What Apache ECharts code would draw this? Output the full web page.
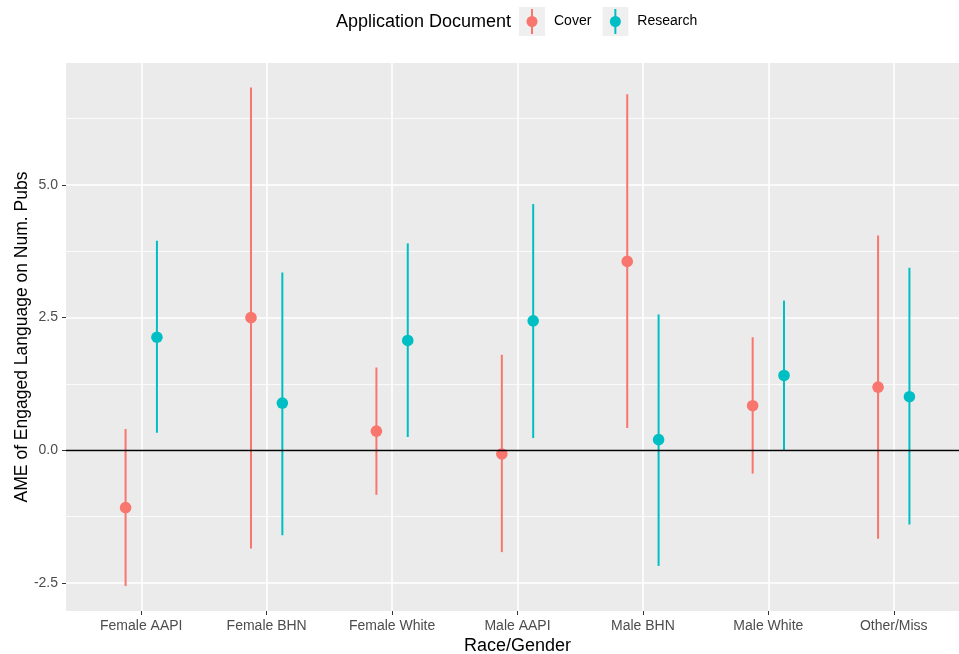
<!DOCTYPE html>
<html>
<head>
<meta charset="utf-8">
<script src="https://cdn.jsdelivr.net/npm/echarts@6/dist/echarts.min.js"></script>
<style>
  html, body { margin: 0; padding: 0; background: #ffffff; }
  #chart { width: 959px; height: 654px; }
</style>
</head>
<body>
<div id="chart"></div>
<script>
// Average marginal effects with confidence intervals, by race/gender group
const categories = ['Female AAPI', 'Female BHN', 'Female White', 'Male AAPI', 'Male BHN', 'Male White', 'Other/Miss'];
const documentTypes = ['Cover', 'Research'];

const coverEstimate = [-1.08, 2.50, 0.36, -0.07, 3.56, 0.84, 1.19];
const coverLower    = [-2.56, -1.85, -0.84, -1.92, 0.42, -0.44, -1.67];
const coverUpper    = [0.40, 6.84, 1.56, 1.80, 6.71, 2.13, 4.05];

const researchEstimate = [2.13, 0.89, 2.07, 2.44, 0.20, 1.41, 1.01];
const researchLower    = [0.33, -1.60, 0.25, 0.23, -2.18, 0.00, -1.40];
const researchUpper    = [3.95, 3.35, 3.90, 4.64, 2.56, 2.82, 3.44];

const yTicks = [-2.5, 0, 2.5, 5];
const yMinorTicks = [-1.25, 1.25, 3.75, 6.25];
const referenceLine = 0;

const colors = { Cover: '#F8766D', Research: '#00BFC4' };
const dodge = 0.125;
const categoryIndex = categories.map((_, i) => i);

function rows(est, lo, hi) {
  return categories.map((_, i) => [i, est[i], lo[i], hi[i]]);
}

// point + vertical interval, shifted sideways by the dodge offset
function pointRange(offset) {
  return function (params, api) {
    const x = api.value(0) + offset;
    const lo = api.coord([x, api.value(2)]);
    const hi = api.coord([x, api.value(3)]);
    const mid = api.coord([x, api.value(1)]);
    const color = api.visual('color');
    return {
      type: 'group',
      children: [
        { type: 'line', shape: { x1: lo[0], y1: lo[1], x2: hi[0], y2: hi[1] },
          style: { stroke: color, lineWidth: 2 } },
        { type: 'circle', shape: { cx: mid[0], cy: mid[1], r: 5.8 },
          style: { fill: color } }
      ]
    };
  };
}

function keyIcon(color) {
  const svg = '<svg xmlns="http://www.w3.org/2000/svg" width="30" height="29" viewBox="0 0 30 29">' +
    '<rect x="0" y="0" width="26" height="29" fill="#EFEFEF"/>' +
    '<line x1="13" y1="2" x2="13" y2="27" stroke="' + color + '" stroke-width="2"/>' +
    '<circle cx="13" cy="14.5" r="5.5" fill="' + color + '"/></svg>';
  return 'image://data:image/svg+xml;charset=utf-8,' + encodeURIComponent(svg);
}

const font = "'Liberation Sans', Arial, sans-serif";
const chart = echarts.init(document.getElementById('chart'), null, { renderer: 'canvas' });

chart.setOption({
  backgroundColor: '#ffffff',
  animation: false,
  textStyle: { fontFamily: font },
  title: {
    text: 'Application Document',
    left: 336, top: 13, padding: 0,
    textStyle: { fontFamily: font, fontSize: 18, fontWeight: 'normal', color: '#000000' }
  },
  legend: {
    left: 519, top: 7, padding: 0,
    itemWidth: 30, itemHeight: 29, itemGap: 11,
    selectedMode: false,
    textStyle: { fontFamily: font, fontSize: 14, color: '#000000', padding: [2, 0, 0, 0] },
    data: documentTypes.map(name => ({ name: name, icon: keyIcon(colors[name]) }))
  },
  grid: {
    left: 66, right: -10, top: 63, bottom: 43,
    outerBoundsMode: 'none',
    containLabel: false,
    show: true, backgroundColor: '#EBEBEB', borderWidth: 0
  },
  xAxis: {
    type: 'value',
    min: -0.6, max: categories.length - 0.4,
    name: 'Race/Gender',
    nameLocation: 'middle',
    nameGap: 26,
    nameMoveOverlap: false,
    nameTextStyle: { fontFamily: font, fontSize: 18, color: '#000000' },
    axisLine: { show: false, onZero: false },
    axisTick: { show: true, length: 4, customValues: categoryIndex,
                lineStyle: { color: '#333333', width: 1 } },
    axisLabel: { customValues: categoryIndex, margin: 8, fontSize: 14, color: '#4D4D4D',
                 formatter: v => categories[Math.round(v)] },
    splitLine: { show: true, lineStyle: { color: '#ffffff', width: 1.6 } }
  },
  yAxis: [
    {
      type: 'value',
      min: -3.03, max: 7.3,
      name: 'AME of Engaged Language on Num. Pubs',
      nameLocation: 'middle',
      nameGap: 35,
      nameMoveOverlap: false,
      nameTextStyle: { fontFamily: font, fontSize: 17.5, color: '#000000' },
      axisLine: { show: false, onZero: false },
      axisTick: { show: true, length: 4, customValues: yTicks,
                  lineStyle: { color: '#333333', width: 1 } },
      axisLabel: { customValues: yTicks, margin: 8, fontSize: 14, color: '#4D4D4D',
                   formatter: v => v.toFixed(1) },
      splitLine: { show: true, lineStyle: { color: '#ffffff', width: 1.6 } }
    },
    {
      type: 'value',
      position: 'right',
      min: -3.03, max: 7.3,
      axisLine: { show: false, onZero: false },
      axisTick: { show: false, customValues: yMinorTicks },
      axisLabel: { show: false, customValues: yMinorTicks },
      splitLine: { show: true, lineStyle: { color: '#ffffff', width: 0.8 } }
    }
  ],
  series: [
    {
      name: 'Cover', type: 'custom',
      itemStyle: { color: colors.Cover },
      renderItem: pointRange(-dodge),
      encode: { x: 0, y: [1, 2, 3] },
      data: rows(coverEstimate, coverLower, coverUpper),
      z: 3
    },
    {
      name: 'Research', type: 'custom',
      itemStyle: { color: colors.Research },
      renderItem: pointRange(dodge),
      encode: { x: 0, y: [1, 2, 3] },
      data: rows(researchEstimate, researchLower, researchUpper),
      z: 3
    },
    {
      name: 'reference', type: 'line', data: [], z: 5,
      markLine: {
        silent: true, symbol: 'none', animation: false,
        label: { show: false },
        lineStyle: { color: '#000000', width: 1.3, type: 'solid' },
        data: [{ yAxis: referenceLine }]
      }
    }
  ]
});
</script>
</body>
</html>
